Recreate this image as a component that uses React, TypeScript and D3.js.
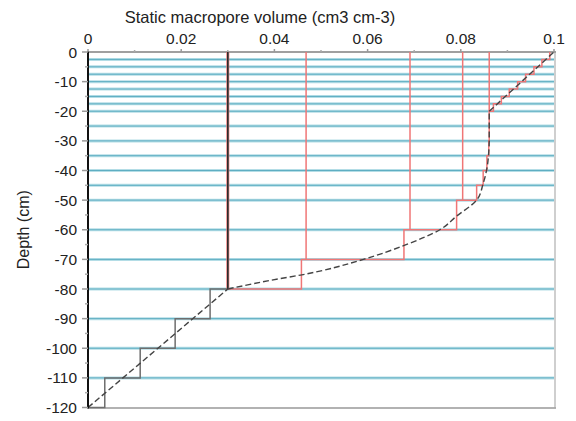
import React from 'react';
import * as d3 from 'd3';

// ─── data ───────────────────────────────────────────────
const xTicks = [0, 0.02, 0.04, 0.06, 0.08, 0.1];
const xTickLabels = ['0', '0.02', '0.04', '0.06', '0.08', '0.1'];
const xMinorTicks = [0.01, 0.03, 0.05, 0.07, 0.09];
const yTicks = [0, -10, -20, -30, -40, -50, -60, -70, -80, -90, -100, -110, -120];
const yMinorTicks = [-5, -15, -25, -35, -45, -55, -65, -75, -85, -95, -105, -115];

// layer boundaries (cm)
const layerDepths = [-2.5, -5, -7.5, -10, -12.5, -15, -17.5, -20, -25, -30, -35, -40, -45, -50, -60, -70, -80, -90, -100, -110];

// continuous profile (dashed)
const curveLow: [number, number][] = [[0, -120], [0.03, -80]];
const curveMid: [number, number][] = [
  [0.03, -80], [0.0412, -76.5], [0.0456, -75.3], [0.0591, -70], [0.068, -65.2],
  [0.0755, -60], [0.0791, -55.4], [0.0834, -50], [0.0848, -44.4], [0.0856, -39.3],
  [0.086, -33.7], [0.0861, -30], [0.0861, -20],
];
const curveTop: [number, number][] = [[0.0861, -20], [0.1, 0]];

// layer-mean steps (red)
const redBounds = [-80, -70, -60, -50, -45, -40, -35, -30, -25, -20, -17.5, -15, -12.5, -10, -7.5, -5, -2.5, 0];
const redValues = [0.0458, 0.0678, 0.0791, 0.0834, 0.0848, 0.0856, 0.086, 0.0861, 0.0861, 0.087, 0.0887, 0.0904, 0.0922, 0.0939, 0.0957, 0.0974, 0.0991];

// layer-mean steps (black)
const blackBounds = [-120, -110, -100, -90, -80, 0];
const blackValues = [0.0036, 0.0112, 0.0187, 0.0262, 0.03];

// coarse layer values (red verticals from surface)
const coarseValues = [0.03, 0.0468, 0.0691, 0.0804, 0.0861];
const coarseBottoms = [-80, -70, -60, -50, -20];

// ─── layout ─────────────────────────────────────────────
const W = 576, H = 421;
const x = d3.scaleLinear().domain([0, 0.1]).range([88, 554]);
const y = d3.scaleLinear().domain([0, -120]).range([52, 407.5]);
const font = '"Liberation Sans", Arial, sans-serif';

const line = d3.line<[number, number]>().x(d => x(d[0])).y(d => y(d[1]));
const smooth = d3.line<[number, number]>().x(d => x(d[0])).y(d => y(d[1])).curve(d3.curveMonotoneY);

function stepPath(bounds: number[], values: number[], start: number) {
  const p = d3.path();
  p.moveTo(x(start), y(bounds[0]));
  values.forEach((v, i) => {
    p.lineTo(x(v), y(bounds[i]));
    p.lineTo(x(v), y(bounds[i + 1]));
  });
  return p.toString();
}

export default function App() {
  const [x0, x1] = x.range();
  return (
    <svg width={W} height={H} style={{ position: 'absolute', left: 0, top: 0, background: '#fff' }}
      fontFamily={font}>
      {/* layer lines */}
      {layerDepths.map(d => (
        <g key={d}>
          <line x1={x0} x2={x1} y1={y(d)} y2={y(d)} stroke="#b4dde6" strokeWidth={3} />
          <line x1={x0} x2={x1} y1={y(d)} y2={y(d)} stroke="#5eaec2" strokeWidth={1} />
        </g>
      ))}

      {/* frame */}
      <line x1={x1 + 1} x2={x1 + 1} y1={y(0)} y2={y(-120)} stroke="#cfcfcf" strokeWidth={2} />
      <line x1={x0} x2={x1 + 2} y1={y(-120) + 0.5} y2={y(-120) + 0.5} stroke="#999" strokeWidth={1.5} />
      <line x1={x0} x2={x1 + 2} y1={y(0)} y2={y(0)} stroke="#a0a0a0" strokeWidth={2} />

      {/* coarse verticals */}
      {coarseValues.map((v, i) => (
        <line key={v} x1={x(v)} x2={x(v)} y1={y(0)} y2={y(coarseBottoms[i])}
          stroke="#f07676" strokeWidth={i === 0 ? 3 : 1.5} />
      ))}

      {/* steps */}
      <path d={stepPath(redBounds, redValues, 0.03)} fill="none" stroke="#f07676" strokeWidth={1.5} />
      <path d={stepPath(blackBounds, blackValues, 0)} fill="none" stroke="#6e6e6e" strokeWidth={1.5} />
      <line x1={x(0.03)} x2={x(0.03)} y1={y(0)} y2={y(-80)} stroke="#222" strokeWidth={1.3} />

      {/* dashed profile */}
      <path d={line(curveLow)!} fill="none" stroke="#444" strokeWidth={1.4} strokeDasharray="6,3" />
      <path d={smooth(curveMid)!} fill="none" stroke="#444" strokeWidth={1.4} strokeDasharray="6,3" />
      <path d={line(curveTop)!} fill="none" stroke="#444" strokeWidth={1.4} strokeDasharray="6,3" />

      {/* y axis */}
      <line x1={x0} x2={x0} y1={y(0) - 1} y2={y(-120) + 1} stroke="#111" strokeWidth={2} />
      {yTicks.map(t => (
        <g key={t}>
          <line x1={x0 - 6} x2={x0} y1={y(t)} y2={y(t)} stroke="#999" strokeWidth={1.5} />
          <text x={x0 - 11} y={y(t)} dy="0.36em" textAnchor="end" fontSize={15.5} fill="#222">{t}</text>
        </g>
      ))}
      {yMinorTicks.map(t => (
        <line key={t} x1={x0 - 3} x2={x0} y1={y(t)} y2={y(t)} stroke="#aaa" strokeWidth={1.5} />
      ))}

      {/* x axis (top) */}
      {xTicks.map((t, i) => (
        <g key={t}>
          <line x1={x(t)} x2={x(t)} y1={y(0) - 3} y2={y(0)} stroke="#999" strokeWidth={1.5} />
          <text x={x(t)} y={44} textAnchor="middle" fontSize={15.5} fill="#222">{xTickLabels[i]}</text>
        </g>
      ))}
      {xMinorTicks.map(t => (
        <line key={t} x1={x(t)} x2={x(t)} y1={y(0) - 2} y2={y(0)} stroke="#aaa" strokeWidth={1.5} />
      ))}

      {/* titles */}
      <text x={260} y={23} textAnchor="middle" fontSize={16.5} fill="#222">Static macropore volume (cm3 cm-3)</text>
      <text transform={`translate(29,${(y(0) + y(-120)) / 2}) rotate(-90)`} textAnchor="middle" fontSize={16} fill="#222">Depth (cm)</text>
    </svg>
  );
}
